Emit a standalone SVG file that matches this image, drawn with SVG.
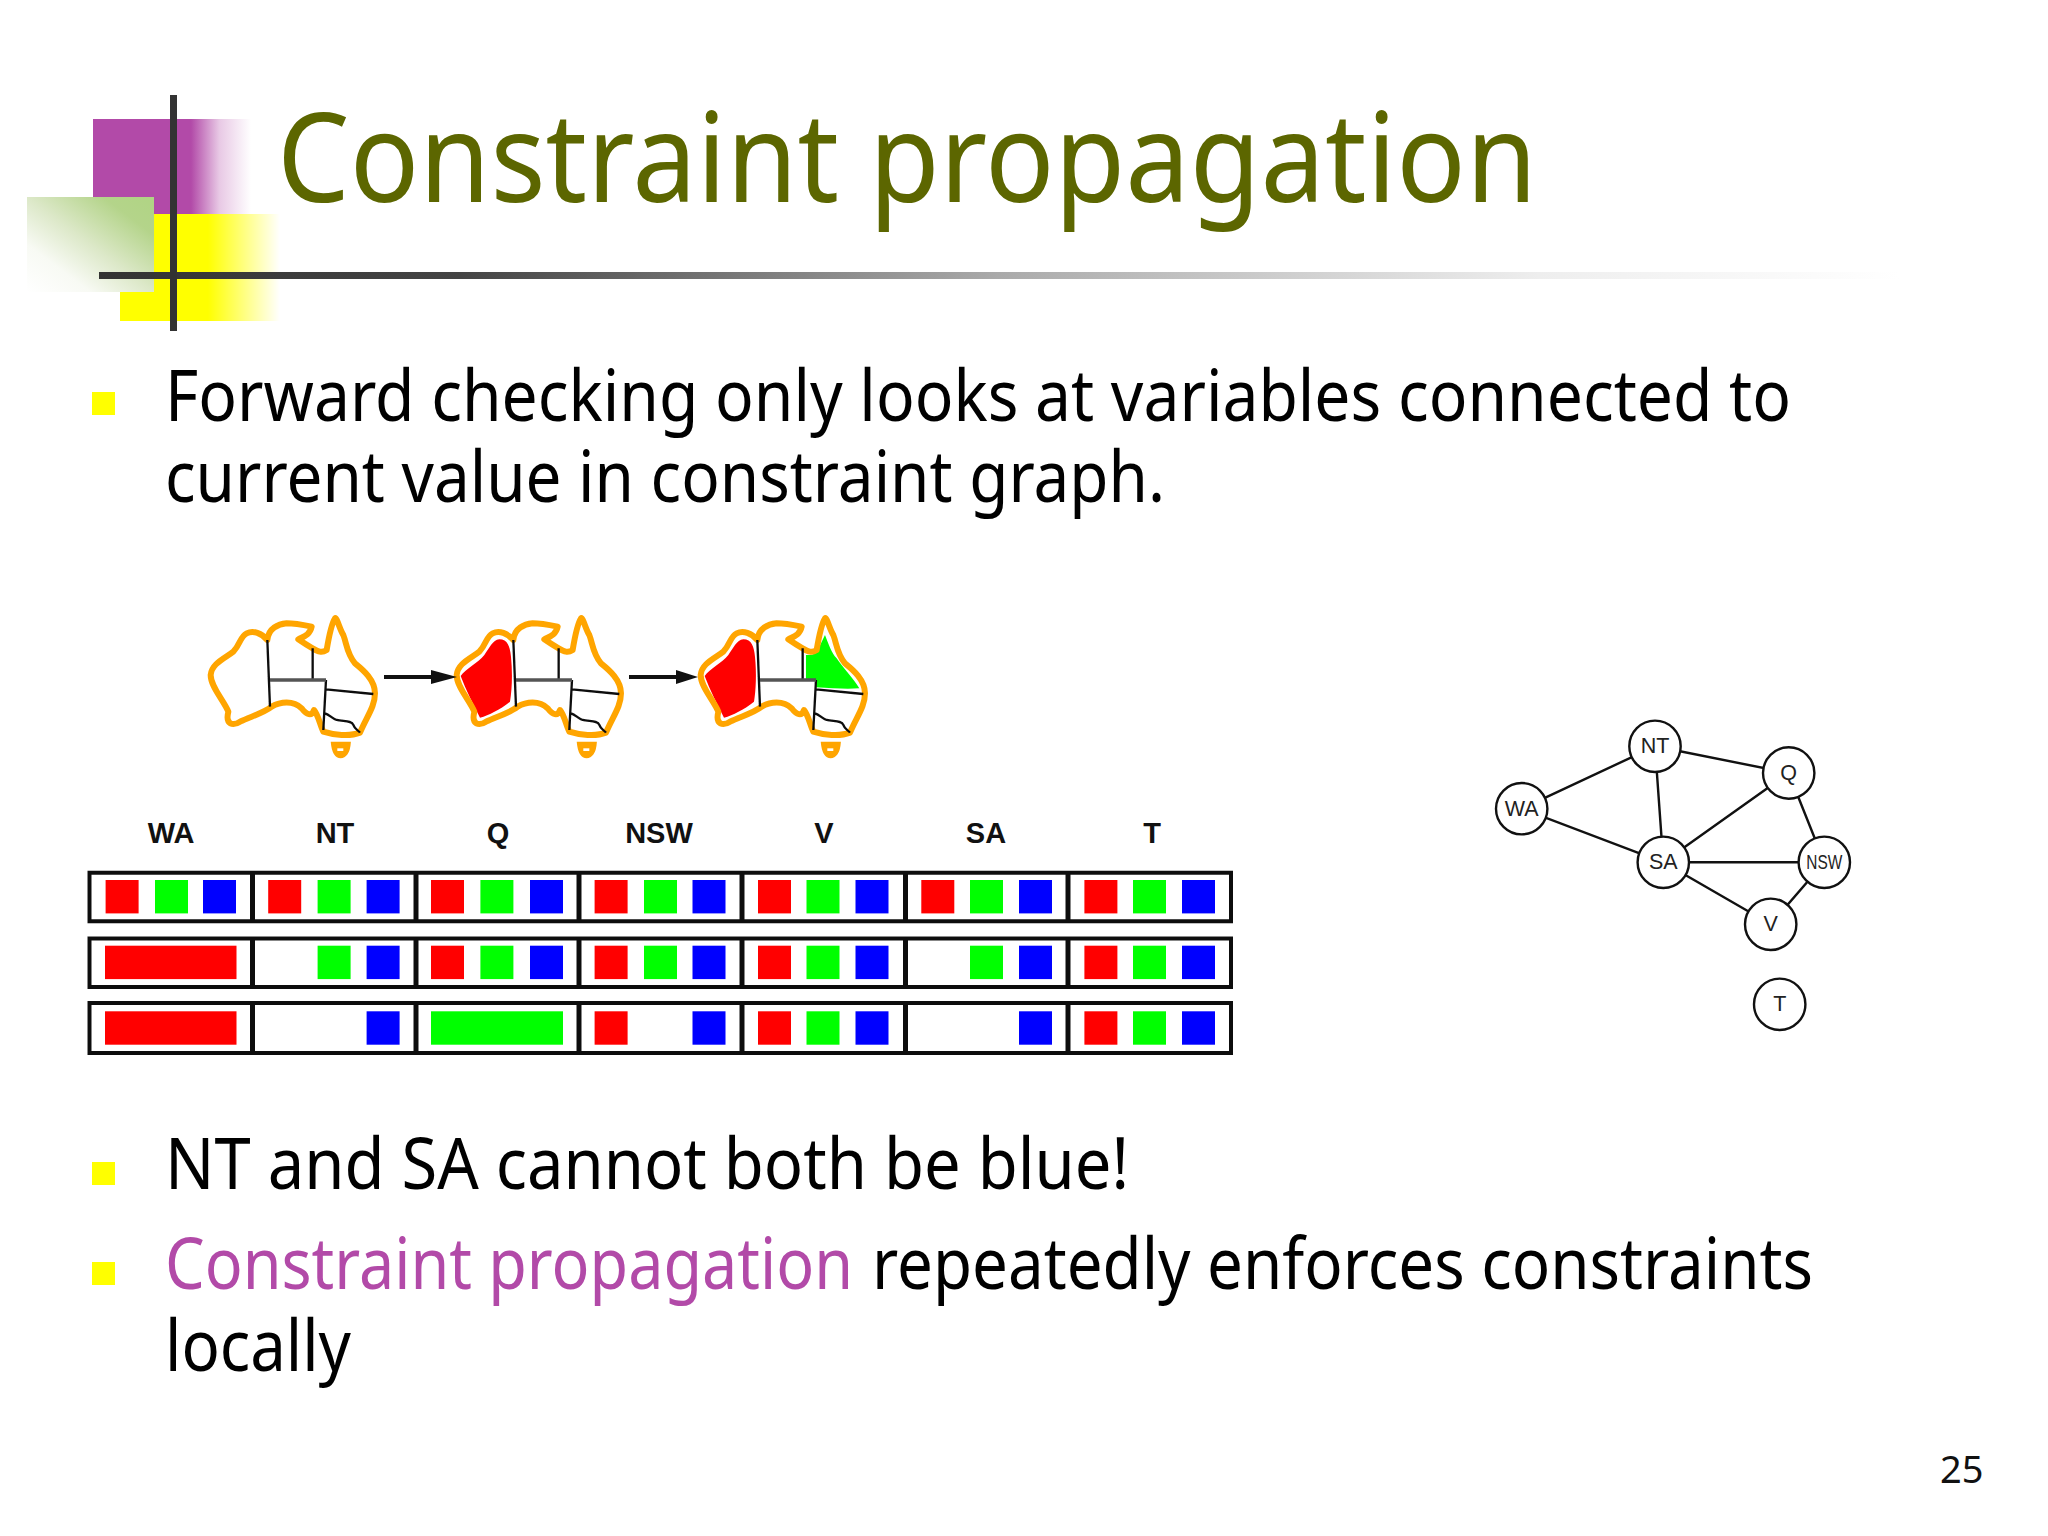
<svg xmlns="http://www.w3.org/2000/svg" width="2048" height="1536" viewBox="0 0 2048 1536">
<style>
.t{font-family:"Noto Sans","DejaVu Sans",sans-serif}
.b{font-size:71px;fill:#000}
.lab{font-family:"Liberation Sans",Arial,sans-serif;font-size:29px;font-weight:bold;text-anchor:middle;fill:#111}
.nl{font-family:"Liberation Sans",Arial,sans-serif;font-size:21.5px;text-anchor:middle;fill:#222}
.n{fill:#fff;stroke:#111;stroke-width:2.4}
.e{stroke:#111;stroke-width:2.4;fill:none}
.cell{fill:#fff;stroke:#111;stroke-width:4}
.div{fill:none;stroke:#111;stroke-width:5}
.r{fill:#f00}.g{fill:#0f0}.u{fill:#00f}
.o{fill:none;stroke:#ffa500;stroke-width:18;stroke-linejoin:round}
.bd{fill:none;stroke:#111;stroke-width:7}
.bdg{fill:none;stroke:#555;stroke-width:11}
.bul{fill:#ffff00}
</style>
<defs>
<filter id="soft" x="-2%" y="-2%" width="104%" height="104%"><feGaussianBlur stdDeviation=".6"/></filter>
<linearGradient id="gp" x1="0" x2="1" y1="0" y2="0"><stop offset="0" stop-color="#b24aa8"/><stop offset=".62" stop-color="#b24aa8"/><stop offset=".8" stop-color="#b24aa8" stop-opacity=".3"/><stop offset="1" stop-color="#b24aa8" stop-opacity="0"/></linearGradient>
<linearGradient id="gy" x1="0" x2="1" y1="0" y2="0"><stop offset="0" stop-color="#ff0"/><stop offset=".55" stop-color="#ff0"/><stop offset="1" stop-color="#ff0" stop-opacity="0"/></linearGradient>
<linearGradient id="gg" x1="1" x2="0" y1="0" y2="1"><stop offset="0" stop-color="#b0d484"/><stop offset=".2" stop-color="#b4d48a"/><stop offset=".5" stop-color="#dce8c8"/><stop offset=".75" stop-color="#f8faf4"/><stop offset="1" stop-color="#fff"/></linearGradient>
<linearGradient id="gl" x1="0" x2="1" y1="0" y2="0"><stop offset="0" stop-color="#333"/><stop offset=".2" stop-color="#444"/><stop offset=".5" stop-color="#aaa"/><stop offset=".8" stop-color="#eee"/><stop offset="1" stop-color="#fff"/></linearGradient>
<path id="au" class="o" d="M232,120 C215,100 190,90 170,100 C150,110 150,135 130,155 C105,175 65,190 62,225 C62,260 100,300 115,335 C105,375 130,378 150,365 C180,350 220,340 245,320 C270,305 310,300 335,325 C350,345 365,350 372,330 C385,345 390,375 400,395 C430,405 480,410 510,398 C530,350 555,320 555,280 C555,240 520,210 495,190 C470,160 470,130 460,105 C450,90 440,50 435,55 C425,70 415,120 410,150 C395,160 385,155 368,145 C350,135 335,125 325,118 C340,110 360,105 365,80 C340,75 310,70 290,70 C265,72 235,85 232,120 Z"/>
<g id="au-lines">
<path class="bd" d="M232,120 L240,320 M368,145 V240 M408,240 L400,390 M408,268 L550,282 M405,340 C420,345 425,355 440,360 C460,365 485,360 490,375 C495,390 505,390 510,398"/>
<path class="bdg" d="M240,240 H408"/>
</g>
<g id="tas"><path d="M425,428 H480 C478,460 465,472 452,472 C438,472 428,460 425,428Z" fill="#ffa500" stroke="#ffa500" stroke-width="5"/><rect x="442" y="445" width="18" height="8" fill="#fff"/></g>
<path id="red" class="r" d="M74,228 C90,205 125,190 145,165 C160,145 170,120 190,118 C215,118 222,140 225,170 C230,220 228,270 222,305 C190,330 160,345 132,353 C110,310 90,270 74,228Z"/>
</defs>
<g id="decor">
<rect x="93" y="119" width="158" height="95" fill="url(#gp)"/>
<rect x="120" y="214" width="160" height="107" fill="url(#gy)"/>
<rect x="27" y="197" width="127" height="95" fill="url(#gg)"/>
<rect x="99" y="272" width="1800" height="7" fill="url(#gl)"/>
<rect x="170" y="95" width="7" height="236" fill="#333"/>
</g>
<text id="title" class="t" x="277" y="202" font-size="125" fill="#5c6600" textLength="1260" lengthAdjust="spacingAndGlyphs">Constraint propagation</text>
<g id="bullets">
<rect class="bul" x="92" y="392" width="23" height="23"/>
<rect class="bul" x="92" y="1162" width="23" height="23"/>
<rect class="bul" x="92" y="1262" width="23" height="23"/>
</g>
<g id="body">
<text class="t b" x="165" y="421" textLength="1626" lengthAdjust="spacingAndGlyphs">Forward checking only looks at variables connected to</text>
<text class="t b" x="165" y="502" textLength="1000" lengthAdjust="spacingAndGlyphs">current value in constraint graph.</text>
<text class="t b" x="165" y="1189" textLength="964" lengthAdjust="spacingAndGlyphs">NT and SA cannot both be blue!</text>
<text class="t b" x="165" y="1289" textLength="688" lengthAdjust="spacingAndGlyphs" style="fill:#b24aa8">Constraint propagation</text>
<text class="t b" x="872" y="1289" textLength="941" lengthAdjust="spacingAndGlyphs">repeatedly enforces constraints</text>
<text class="t b" x="165" y="1371" textLength="186" lengthAdjust="spacingAndGlyphs">locally</text>
</g>
<g id="map1" filter="url(#soft)" transform="translate(190,600) scale(.3333)"><use href="#au"/><use href="#au-lines"/><use href="#tas"/></g>
<g id="map2" filter="url(#soft)" transform="translate(436,600) scale(.3333)"><use href="#red"/><use href="#au"/><use href="#au-lines"/><use href="#tas"/></g>
<g id="map3" filter="url(#soft)" transform="translate(680,600) scale(.3333)"><use href="#red"/><path class="g" d="M378,165 C395,165 410,165 418,140 L435,105 C445,130 455,160 470,175 C490,205 520,235 538,265 C500,268 460,265 408,262 L408,240 H378Z"/><use href="#au"/><use href="#au-lines"/><use href="#tas"/></g>
<g id="connectors">
<path d="M384,677 H435" stroke="#111" stroke-width="4"/><path d="M431,670 L457,677 L431,684Z" fill="#111"/>
<path d="M629,677 H680" stroke="#111" stroke-width="4"/><path d="M676,670 L698,677 L676,684Z" fill="#111"/>
<path class="e" d="M1521.7,808.7 L1655,746.3 M1521.7,808.7 L1663.3,862.3 M1655,746.3 L1788.7,773 M1655,746.3 L1663.3,862.3 M1788.7,773 L1663.3,862.3 M1788.7,773 L1824.3,862.3 M1663.3,862.3 H1824.3 M1663.3,862.3 L1770.7,924.3 M1824.3,862.3 L1770.7,924.3"/>
</g>
<g id="n-WA"><circle class="n" cx="1521.7" cy="808.7" r="25.7"/><text class="nl" x="1521.7" y="816">WA</text></g>
<g id="n-NT"><circle class="n" cx="1655" cy="746.3" r="25.7"/><text class="nl" x="1655" y="753">NT</text></g>
<g id="n-Q"><circle class="n" cx="1788.7" cy="773" r="25.7"/><text class="nl" x="1788.7" y="780">Q</text></g>
<g id="n-SA"><circle class="n" cx="1663.3" cy="862.3" r="25.7"/><text class="nl" x="1663.3" y="869">SA</text></g>
<g id="n-NSW"><circle class="n" cx="1824.3" cy="862.3" r="25.7"/><text class="nl" x="1824.3" y="868.5" textLength="36" lengthAdjust="spacingAndGlyphs" style="font-size:20px">NSW</text></g>
<g id="n-V"><circle class="n" cx="1770.7" cy="924.3" r="25.7"/><text class="nl" x="1770.7" y="931">V</text></g>
<g id="n-T"><circle class="n" cx="1779.7" cy="1004.3" r="25.7"/><text class="nl" x="1779.7" y="1011">T</text></g>
<g id="labels">
<text class="lab" x="171" y="843">WA</text><text class="lab" x="335" y="843">NT</text><text class="lab" x="498" y="843">Q</text><text class="lab" x="659" y="843">NSW</text><text class="lab" x="824" y="843">V</text><text class="lab" x="986" y="843">SA</text><text class="lab" x="1152" y="843">T</text>
</g>
<g id="table" filter="url(#soft)">
<g id="row1">
<path class="cell" d="M89.5,872.7H1231V921.3H89.5Z"/>
<path class="div" d="M252.5,872.7V921.3M416,872.7V921.3M579,872.7V921.3M742,872.7V921.3M905.5,872.7V921.3M1068,872.7V921.3"/>
<g class="r"><rect x="105.6" y="880" width="33" height="33.4"/><rect x="268.2" y="880" width="33" height="33.4"/><rect x="431" y="880" width="33" height="33.4"/><rect x="594.6" y="880" width="33" height="33.4"/><rect x="758" y="880" width="33" height="33.4"/><rect x="921.3" y="880" width="33" height="33.4"/><rect x="1084.4" y="880" width="33" height="33.4"/></g>
<g class="g"><rect x="155" y="880" width="33" height="33.4"/><rect x="317.6" y="880" width="33" height="33.4"/><rect x="480.4" y="880" width="33" height="33.4"/><rect x="644" y="880" width="33" height="33.4"/><rect x="806.5" y="880" width="33" height="33.4"/><rect x="970" y="880" width="33" height="33.4"/><rect x="1133" y="880" width="33" height="33.4"/></g>
<g class="u"><rect x="203" y="880" width="33" height="33.4"/><rect x="366.6" y="880" width="33" height="33.4"/><rect x="530" y="880" width="33" height="33.4"/><rect x="692.5" y="880" width="33" height="33.4"/><rect x="855.5" y="880" width="33" height="33.4"/><rect x="1019" y="880" width="33" height="33.4"/><rect x="1182" y="880" width="33" height="33.4"/></g>
</g>
<g id="row2">
<path class="cell" d="M89.5,938.5H1231V987H89.5Z"/>
<path class="div" d="M252.5,938.5V987M416,938.5V987M579,938.5V987M742,938.5V987M905.5,938.5V987M1068,938.5V987"/>
<rect class="r" x="105" y="945.7" width="131.5" height="33.4"/>
<g class="r"><rect x="431" y="945.7" width="33" height="33.4"/><rect x="594.6" y="945.7" width="33" height="33.4"/><rect x="758" y="945.7" width="33" height="33.4"/><rect x="1084.4" y="945.7" width="33" height="33.4"/></g>
<g class="g"><rect x="317.6" y="945.7" width="33" height="33.4"/><rect x="480.4" y="945.7" width="33" height="33.4"/><rect x="644" y="945.7" width="33" height="33.4"/><rect x="806.5" y="945.7" width="33" height="33.4"/><rect x="970" y="945.7" width="33" height="33.4"/><rect x="1133" y="945.7" width="33" height="33.4"/></g>
<g class="u"><rect x="366.6" y="945.7" width="33" height="33.4"/><rect x="530" y="945.7" width="33" height="33.4"/><rect x="692.5" y="945.7" width="33" height="33.4"/><rect x="855.5" y="945.7" width="33" height="33.4"/><rect x="1019" y="945.7" width="33" height="33.4"/><rect x="1182" y="945.7" width="33" height="33.4"/></g>
</g>
<g id="row3">
<path class="cell" d="M89.5,1003H1231V1053H89.5Z"/>
<path class="div" d="M252.5,1003V1053M416,1003V1053M579,1003V1053M742,1003V1053M905.5,1003V1053M1068,1003V1053"/>
<rect class="r" x="105" y="1011.3" width="131.5" height="33.4"/>
<rect class="g" x="431" y="1011.3" width="132" height="33.4"/>
<g class="r"><rect x="594.6" y="1011.3" width="33" height="33.4"/><rect x="758" y="1011.3" width="33" height="33.4"/><rect x="1084.4" y="1011.3" width="33" height="33.4"/></g>
<g class="g"><rect x="806.5" y="1011.3" width="33" height="33.4"/><rect x="1133" y="1011.3" width="33" height="33.4"/></g>
<g class="u"><rect x="366.6" y="1011.3" width="33" height="33.4"/><rect x="692.5" y="1011.3" width="33" height="33.4"/><rect x="855.5" y="1011.3" width="33" height="33.4"/><rect x="1019" y="1011.3" width="33" height="33.4"/><rect x="1182" y="1011.3" width="33" height="33.4"/></g>
</g>
</g>
<text id="page" class="t" x="1940" y="1483" font-size="38" fill="#111">25</text>
</svg>
